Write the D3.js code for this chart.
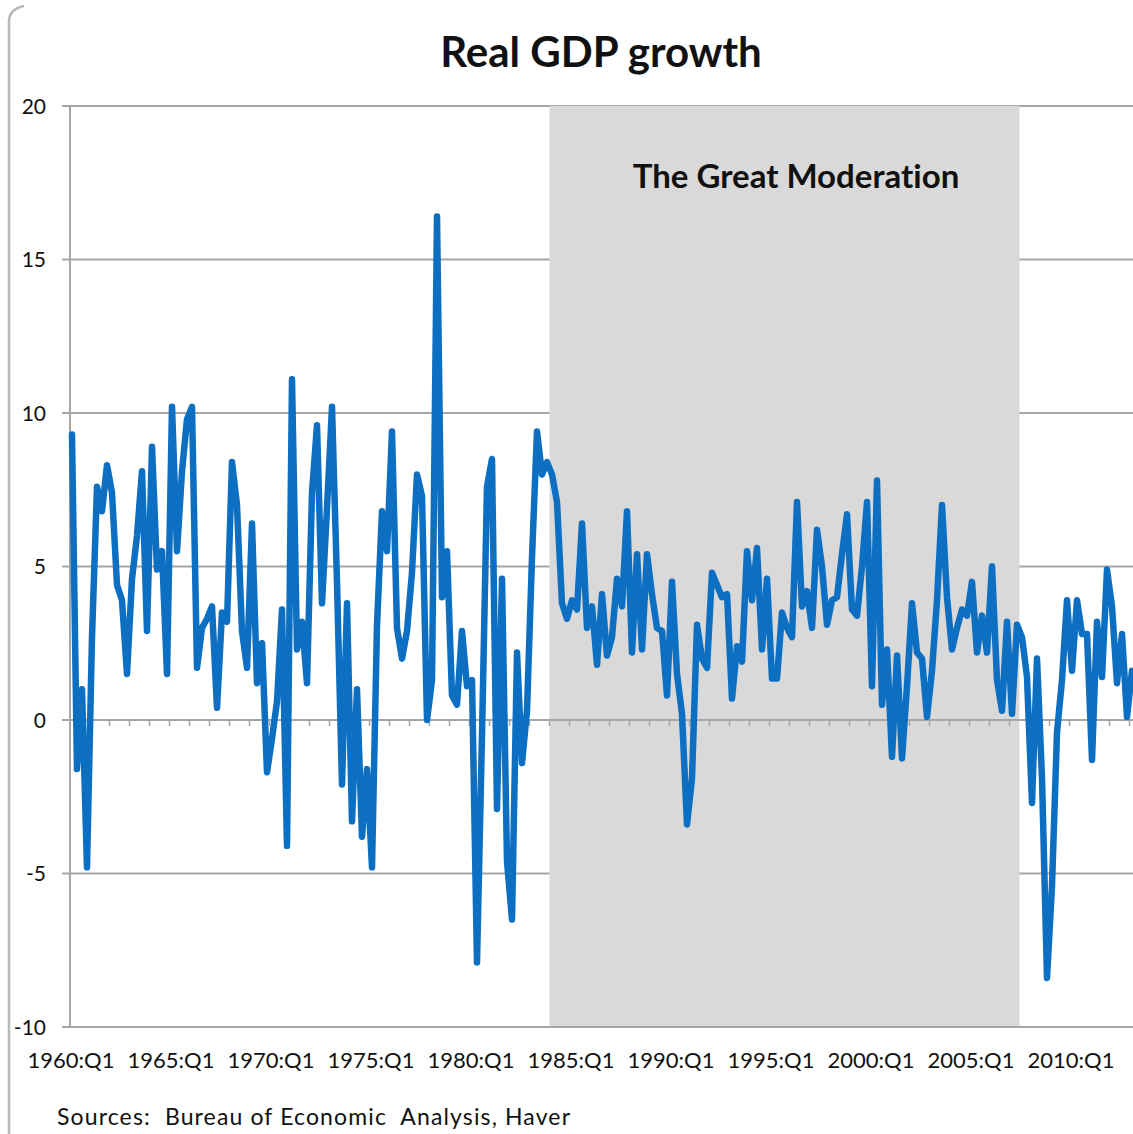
<!DOCTYPE html>
<html>
<head>
<meta charset="utf-8">
<script src="https://cdn.jsdelivr.net/npm/d3@7"></script>
<style>
  body { margin: 0; background: #fff; }
  svg text { font-family: Lato, "Open Sans", sans-serif; fill: #111; font-variant-ligatures: none; }
</style>
</head>
<body>
<svg width="1133" height="1134"></svg>
<script>
// quarterly real GDP growth, annualized %, 1960:Q1 .. 2013:Q1
var firstYear = 1960;
var growth = [
  9.3, -1.6, 1.0, -4.8,   2.7, 7.6, 6.8, 8.3,   7.4, 4.4, 3.9, 1.5,   4.6, 6.0, 8.1, 2.9,
  8.9, 4.9, 5.5, 1.5,     10.2, 5.5, 8.1, 9.8,  10.2, 1.7, 3.0, 3.3,  3.7, 0.4, 3.5, 3.2,
  8.4, 7.0, 2.9, 1.7,     6.4, 1.2, 2.5, -1.7,  -0.6, 0.6, 3.6, -4.1, 11.1, 2.3, 3.2, 1.2,
  7.4, 9.6, 3.8, 6.9,     10.2, 4.5, -2.1, 3.8, -3.3, 1.0, -3.8, -1.6, -4.8, 3.1, 6.8, 5.5,
  9.4, 3.0, 2.0, 2.9,     4.8, 8.0, 7.3, 0.0,   1.3, 16.4, 4.0, 5.5,  0.8, 0.5, 2.9, 1.1,
  1.3, -7.9, -0.5, 7.6,   8.5, -2.9, 4.6, -4.6, -6.5, 2.2, -1.4, 0.3, 5.3, 9.4, 8.0, 8.4,
  8.0, 7.1, 3.8, 3.3,     3.9, 3.6, 6.4, 3.0,   3.7, 1.8, 4.1, 2.1,   2.7, 4.6, 3.7, 6.8,
  2.2, 5.4, 2.3, 5.4,     4.1, 3.0, 2.9, 0.8,   4.5, 1.5, 0.2, -3.4,  -1.9, 3.1, 2.0, 1.7,
  4.8, 4.4, 4.0, 4.1,     0.7, 2.4, 1.9, 5.5,   3.9, 5.6, 2.3, 4.6,   1.35, 1.35, 3.5, 3.0,
  2.7, 7.1, 3.7, 4.2,     3.0, 6.2, 5.0, 3.1,   3.9, 4.0, 5.4, 6.7,   3.6, 3.4, 5.0, 7.1,
  1.1, 7.8, 0.5, 2.3,     -1.2, 2.1, -1.25, 1.1, 3.8, 2.2, 2.0, 0.1, 1.6, 3.9, 7.0, 4.0,
  2.3, 3.0, 3.6, 3.4,     4.5, 2.2, 3.4, 2.2,   5.0, 1.3, 0.3, 3.2,   0.2, 3.1, 2.7, 1.4,
  -2.7, 2.0, -1.9, -8.4,  -5.4, -0.4, 1.3, 3.9, 1.6, 3.9, 2.8, 2.8,   -1.3, 3.2, 1.4, 4.9,
  3.7, 1.2, 2.8, 0.1,     1.6
];
var quarters = growth.map(function(d, i) {
  return (firstYear + Math.floor(i / 4)) + ':Q' + (i % 4 + 1);
});
var xLabels = ['1960:Q1', '1965:Q1', '1970:Q1', '1975:Q1', '1980:Q1',
               '1985:Q1', '1990:Q1', '1995:Q1', '2000:Q1', '2005:Q1', '2010:Q1'];
var yTicks = [-10, -5, 0, 5, 10, 15, 20];
var moderation = { from: '1984:Q1', to: '2007:Q2', label: 'The Great Moderation' };
var title = 'Real GDP growth';
var source = 'Sources:  Bureau of Economic  Analysis, Haver';

var svg = d3.select('svg'),
    left = 70, right = 1133;

var x = d3.scalePoint()
    .domain(quarters)
    .range([72, 72 + 5 * (quarters.length - 1)]);

var y = d3.scaleLinear()
    .domain([-10, 20])
    .range([1027, 106]);

var half = x.step() / 2;

// frame line on the left
svg.append('path')
    .attr('d', 'M9,1134 L9,22 Q9,9 24,6')
    .attr('fill', 'none')
    .attr('stroke', '#b8b8b8')
    .attr('stroke-width', 2.5);

svg.append('text')
    .attr('x', 601).attr('y', 67)
    .attr('text-anchor', 'middle')
    .style('font-size', '42px').style('font-weight', 'bold')
    .text(title);

// gridlines
svg.append('g').selectAll('line')
    .data(yTicks)
  .enter().append('line')
    .attr('x1', left - 8).attr('x2', right)
    .attr('y1', function(d) { return y(d); })
    .attr('y2', function(d) { return y(d); })
    .attr('stroke', '#a6a6a6')
    .attr('stroke-width', 2);

// shaded period
svg.append('rect')
    .attr('x', x(moderation.from) - half)
    .attr('y', y(20))
    .attr('width', x(moderation.to) + half - (x(moderation.from) - half))
    .attr('height', y(-10) - y(20))
    .attr('fill', '#d9d9d9');

svg.append('text')
    .attr('x', 796).attr('y', 188)
    .attr('text-anchor', 'middle')
    .style('font-size', '33px').style('font-weight', 'bold')
    .text(moderation.label);

// bottom and zero lines over the shading
[-10, 0].forEach(function(v) {
  svg.append('line')
      .attr('x1', v === 0 ? left : left - 8).attr('x2', right)
      .attr('y1', y(v)).attr('y2', y(v))
      .attr('stroke', '#a6a6a6')
      .attr('stroke-width', 2);
});

// year ticks under the zero line
svg.append('g').selectAll('line')
    .data(quarters.filter(function(q) { return /Q1$/.test(q) && q !== '1960:Q1'; }))
  .enter().append('line')
    .attr('x1', function(d) { return x(d) - half; })
    .attr('x2', function(d) { return x(d) - half; })
    .attr('y1', y(0)).attr('y2', y(0) + 6)
    .attr('stroke', '#a6a6a6')
    .attr('stroke-width', 1.5);

// y axis
svg.append('line')
    .attr('x1', left).attr('x2', left)
    .attr('y1', y(20)).attr('y2', y(-10))
    .attr('stroke', '#a6a6a6')
    .attr('stroke-width', 2);

svg.append('g').selectAll('text')
    .data(yTicks)
  .enter().append('text')
    .attr('x', 46)
    .attr('y', function(d) { return y(d); })
    .attr('dy', '0.36em')
    .attr('text-anchor', 'end')
    .style('font-size', '21px')
    .text(function(d) { return d; });

svg.append('g').selectAll('text')
    .data(xLabels)
  .enter().append('text')
    .attr('x', function(d) { return x(d) - 1; })
    .attr('y', 1068)
    .attr('text-anchor', 'middle')
    .style('font-size', '22px')
    .text(function(d) { return d; });

var line = d3.line()
    .x(function(d, i) { return x(quarters[i]); })
    .y(function(d) { return y(d); });

svg.append('path')
    .datum(growth)
    .attr('d', line)
    .attr('fill', 'none')
    .attr('stroke', '#0c6fc2')
    .attr('stroke-width', 6.5)
    .attr('stroke-linejoin', 'round')
    .attr('stroke-linecap', 'round');

svg.append('text')
    .attr('x', 57).attr('y', 1125)
    .attr('xml:space', 'preserve')
    .attr('textLength', 513)
    .attr('lengthAdjust', 'spacing')
    .style('white-space', 'pre')
    .style('font-size', '23px')
    .text(source);
</script>
</body>
</html>
